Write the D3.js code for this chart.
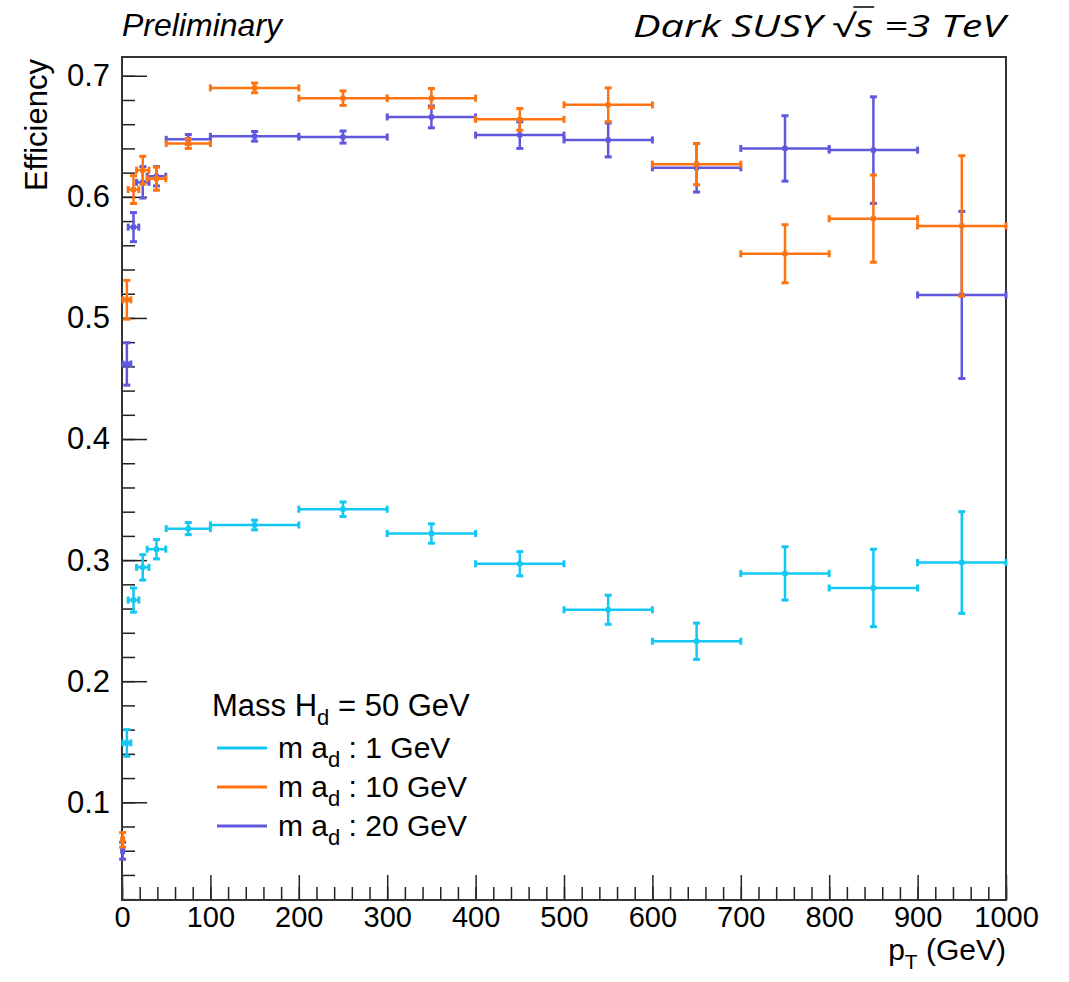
<!DOCTYPE html>
<html>
<head>
<meta charset="utf-8">
<script src="https://cdn.jsdelivr.net/npm/d3@7"></script>
<style>
	body { margin: 0; background: #fff; }
	text { font-family: "Liberation Sans", Arial, sans-serif; fill: #000; }
</style>
</head>
<body>
<script>
// pT bins (GeV): centre and half width of each point
var ptCenter    = [0.75, 5.5, 13, 23.5, 39, 75, 150, 250, 350, 450, 550, 650, 750, 850, 950];
var ptHalfWidth = [0.75, 4.5, 6, 7, 10.5, 25, 50, 50, 50, 50, 50, 50, 50, 50, 50];

// efficiency and its error, one pair per a_d mass
var effMa1  = [null, 0.149, 0.267, 0.294, 0.309, 0.326, 0.329, 0.342, 0.322, 0.297, 0.259, 0.233, 0.289, 0.277, 0.298];
var errMa1  = [null, 0.011, 0.010, 0.0105, 0.008, 0.005, 0.004, 0.006, 0.008, 0.010, 0.012, 0.015, 0.022, 0.032, 0.042];
var effMa10 = [0.069, 0.515, 0.606, 0.622, 0.615, 0.644, 0.690, 0.6815, 0.6815, 0.664, 0.676, 0.627, 0.553, 0.582, 0.576];
var errMa10 = [0.006, 0.016, 0.0115, 0.0115, 0.0095, 0.004, 0.004, 0.006, 0.008, 0.009, 0.014, 0.017, 0.024, 0.036, 0.058];
var effMa20 = [0.060, 0.462, 0.575, 0.612, 0.617, 0.6475, 0.650, 0.6494, 0.666, 0.651, 0.647, 0.624, 0.640, 0.6386, 0.519];
var errMa20 = [0.007, 0.0175, 0.012, 0.013, 0.008, 0.004, 0.004, 0.005, 0.009, 0.011, 0.014, 0.020, 0.027, 0.044, 0.069];

var legendMasses = ["1", "10", "20"];
var xMajorTicks = [0, 100, 200, 300, 400, 500, 600, 700, 800, 900, 1000];
var yMajorTicks = [0.1, 0.2, 0.3, 0.4, 0.5, 0.6, 0.7];

function render_chart() {
	var width = 1069;
	var height = 982;
	var left = 122, right = 1006, top = 57, bottom = 900;

	var svg = d3.select("body").append("svg")
		.attr("width", width)
		.attr("height", height);

	var x = d3.scaleLinear().domain([0, 1000]).range([left, right]);
	var y = d3.scaleLinear().domain([0.0193, 0.7155]).range([bottom, top]);

	/* axes: ticks point into the frame */
	var xMinor = d3.range(0, 1001, 20);
	var yMinor = d3.range(0.02, 0.7001, 0.02);

	svg.append("g")
		.attr("class", "xaxis")
		.attr("transform", "translate(0," + bottom + ")")
		.call(d3.axisBottom(x).tickValues(xMajorTicks).tickSize(-25).tickSizeOuter(0)
			.tickPadding(6).tickFormat(d3.format("d")));
	svg.append("g")
		.attr("transform", "translate(0," + bottom + ")")
		.call(d3.axisBottom(x).tickValues(xMinor).tickSize(-13).tickSizeOuter(0).tickFormat(""));

	svg.append("g")
		.attr("class", "yaxis")
		.attr("transform", "translate(" + left + ",0)")
		.call(d3.axisLeft(y).tickValues(yMajorTicks).tickSize(-25).tickSizeOuter(0)
			.tickPadding(12).tickFormat(d3.format(".1f")));
	svg.append("g")
		.attr("transform", "translate(" + left + ",0)")
		.call(d3.axisLeft(y).tickValues(yMinor).tickSize(-13).tickSizeOuter(0).tickFormat(""));

	svg.selectAll(".domain").remove();
	svg.selectAll(".tick line").attr("stroke", "#222").attr("stroke-width", 1.5);
	svg.selectAll(".tick text").attr("fill", "#000")
		.attr("font-family", "'Liberation Sans', Arial, sans-serif");
	svg.selectAll(".yaxis .tick text").attr("font-size", 31);
	svg.selectAll(".xaxis .tick text").attr("font-size", 29);

	svg.append("rect")
		.attr("x", left).attr("y", top)
		.attr("width", right - left).attr("height", bottom - top)
		.attr("fill", "none").attr("stroke", "#333").attr("stroke-width", 2);

	/* data points with error crosses */
	var series = [
		{ eff: effMa1, err: errMa1, color: "#12c8f2" },
		{ eff: effMa20, err: errMa20, color: "#5f58dc" },
		{ eff: effMa10, err: errMa10, color: "#ff7412" }
	];

	series.forEach(function(s) {
		var idx = d3.range(s.eff.length).filter(function(i) { return s.eff[i] != null; });
		var pts = svg.append("g")
			.attr("stroke", s.color)
			.attr("fill", s.color)
		  .selectAll("g")
		  .data(idx)
		  .enter().append("g");

		pts.append("line")
			.attr("x1", function(i) { return x(ptCenter[i] - ptHalfWidth[i]); })
			.attr("x2", function(i) { return x(ptCenter[i] + ptHalfWidth[i]); })
			.attr("y1", function(i) { return y(s.eff[i]); })
			.attr("y2", function(i) { return y(s.eff[i]); })
			.attr("stroke-width", 2.5);
		pts.append("line")
			.attr("x1", function(i) { return x(ptCenter[i]); })
			.attr("x2", function(i) { return x(ptCenter[i]); })
			.attr("y1", function(i) { return y(s.eff[i] - s.err[i]); })
			.attr("y2", function(i) { return y(s.eff[i] + s.err[i]); })
			.attr("stroke-width", 2.5);

		// end caps
		[-1, 1].forEach(function(sign) {
			pts.append("rect")
				.attr("x", function(i) { return x(ptCenter[i] + sign * ptHalfWidth[i]) - 1.5; })
				.attr("y", function(i) { return y(s.eff[i]) - 3.5; })
				.attr("width", 3).attr("height", 7)
				.attr("stroke", "none");
			pts.append("rect")
				.attr("x", function(i) { return x(ptCenter[i]) - 3.5; })
				.attr("y", function(i) { return y(s.eff[i] + sign * s.err[i]) - 1.5; })
				.attr("width", 7).attr("height", 3)
				.attr("stroke", "none");
		});

		pts.append("rect")
			.attr("x", function(i) { return x(ptCenter[i]) - 2.5; })
			.attr("y", function(i) { return y(s.eff[i]) - 2.5; })
			.attr("width", 5).attr("height", 5)
			.attr("stroke", "none");
	});

	/* legend */
	var legend = svg.append("g");
	var header = legend.append("text").attr("x", 212).attr("y", 716).attr("font-size", 31);
	header.append("tspan").text("Mass H");
	header.append("tspan").attr("font-size", 22).attr("dy", 9).text("d");
	header.append("tspan").attr("dy", -9).text(" = 50 GeV");

	var legendColors = ["#12c8f2", "#ff7412", "#5f58dc"];
	legendMasses.forEach(function(m, k) {
		var ly = 748 + k * 39;
		legend.append("line")
			.attr("x1", 217).attr("x2", 267)
			.attr("y1", ly).attr("y2", ly)
			.attr("stroke", legendColors[k]).attr("stroke-width", 3);
		var t = legend.append("text").attr("x", 278).attr("y", ly + 10).attr("font-size", 30);
		t.append("tspan").text("m a");
		t.append("tspan").attr("font-size", 22).attr("dy", 9).text("d");
		t.append("tspan").attr("dy", -9).text(" : " + m + " GeV");
	});

	/* axis titles */
	svg.append("text")
		.attr("transform", "translate(47," + (top + 2) + ") rotate(-90)")
		.attr("text-anchor", "end")
		.attr("font-size", 31)
		.text("Efficiency");

	var xt = svg.append("text")
		.attr("x", right).attr("y", 960)
		.attr("text-anchor", "end")
		.attr("font-size", 30);
	xt.append("tspan").text("p");
	xt.append("tspan").attr("font-size", 21).attr("dy", 9).text("T");
	xt.append("tspan").attr("dy", -9).text(" (GeV)");

	/* top labels */
	svg.append("text")
		.attr("x", 122).attr("y", 36)
		.attr("font-size", 32)
		.attr("font-style", "italic")
		.text("Preliminary");

	var title = svg.append("text")
		.attr("x", 633).attr("y", 37)
		.attr("font-style", "italic")
		.attr("font-size", 31)
		.attr("textLength", 372)
		.attr("lengthAdjust", "spacingAndGlyphs")
		.style("font-family", "'Open Sans', sans-serif");
	title.append("tspan").text("Dark SUSY ");
	title.append("tspan").attr("font-style", "normal").text("\u221A");
	title.append("tspan").text("s");
	title.append("tspan").text(" =3 TeV");

	// overline of the square root
	var node = title.node();
	var sIndex = "Dark SUSY \u221A".length;
	var sBox = node.getExtentOfChar(sIndex);
	var rBox = node.getExtentOfChar(sIndex - 1);
	svg.append("line")
		.attr("x1", rBox.x + rBox.width - 2).attr("x2", sBox.x + sBox.width + 1)
		.attr("y1", rBox.y + 3).attr("y2", rBox.y + 3)
		.attr("stroke", "#000").attr("stroke-width", 1.5);
}

render_chart();
</script>
</body>
</html>
